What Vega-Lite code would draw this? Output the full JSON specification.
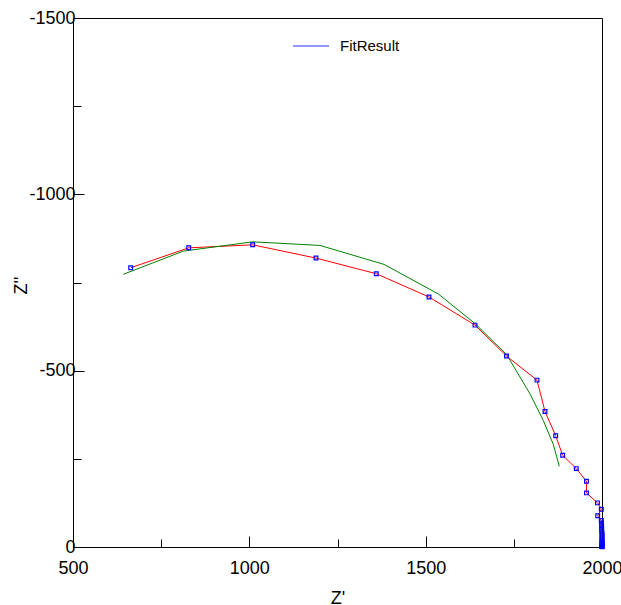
{
  "$schema": "https://vega.github.io/schema/vega-lite/v6.json",
  "width": 529,
  "height": 529,
  "autosize": {"type": "none"},
  "padding": {"left": 73, "top": 18, "right": 19, "bottom": 58},
  "background": "white",
  "config": {
    "view": {"stroke": "black", "strokeWidth": 1},
    "font": "Liberation Sans",
    "axis": {
      "domainColor": "black",
      "tickColor": "black",
      "labelColor": "black",
      "titleColor": "black",
      "labelFont": "Liberation Sans",
      "titleFont": "Liberation Sans",
      "labelFontSize": 18,
      "titleFontSize": 18,
      "titleFontWeight": "normal",
      "grid": false
    }
  },
  "data": {
    "values": [
      {"s": "d", "i": 1, "x": 663.6, "y": -791.8},
      {"s": "d", "i": 2, "x": 828.1, "y": -848.3},
      {"s": "d", "i": 3, "x": 1009.5, "y": -856.8},
      {"s": "d", "i": 4, "x": 1189.0, "y": -819.2},
      {"s": "d", "i": 5, "x": 1360.0, "y": -774.9},
      {"s": "d", "i": 6, "x": 1509.4, "y": -709.0},
      {"s": "d", "i": 7, "x": 1639.9, "y": -629.1},
      {"s": "d", "i": 8, "x": 1729.2, "y": -541.5},
      {"s": "d", "i": 9, "x": 1815.7, "y": -473.2},
      {"s": "d", "i": 10, "x": 1838.4, "y": -384.2},
      {"s": "d", "i": 11, "x": 1868.7, "y": -315.5},
      {"s": "d", "i": 12, "x": 1888.5, "y": -259.9},
      {"s": "d", "i": 13, "x": 1927.1, "y": -222.3},
      {"s": "d", "i": 14, "x": 1956.0, "y": -186.4},
      {"s": "d", "i": 15, "x": 1956.0, "y": -153.4},
      {"s": "d", "i": 16, "x": 1987.2, "y": -125.1},
      {"s": "d", "i": 17, "x": 1998.0, "y": -107.3},
      {"s": "d", "i": 18, "x": 1987.8, "y": -88.4},
      {"s": "d", "i": 19, "x": 1998.0, "y": -75.4},
      {"s": "d", "i": 20, "x": 1998.5, "y": -68},
      {"s": "d", "i": 21, "x": 1999, "y": -60},
      {"s": "d", "i": 22, "x": 1999, "y": -53},
      {"s": "d", "i": 23, "x": 1999, "y": -46},
      {"s": "d", "i": 24, "x": 2000, "y": -40},
      {"s": "d", "i": 25, "x": 2000, "y": -34},
      {"s": "d", "i": 26, "x": 2000, "y": -28},
      {"s": "d", "i": 27, "x": 2000, "y": -23},
      {"s": "d", "i": 28, "x": 2000, "y": -18},
      {"s": "d", "i": 29, "x": 2000, "y": -14},
      {"s": "d", "i": 30, "x": 2000, "y": -10},
      {"s": "d", "i": 31, "x": 2000, "y": -7},
      {"s": "d", "i": 32, "x": 2000, "y": -5},
      {"s": "d", "i": 33, "x": 2000, "y": -3},
      {"s": "d", "i": 34, "x": 2000, "y": -1.5},
      {"s": "d", "i": 35, "x": 2000, "y": -0.5},
      {"s": "f", "i": 1, "x": 642.6, "y": -773.2},
      {"s": "f", "i": 2, "x": 812.8, "y": -839.0},
      {"s": "f", "i": 3, "x": 1009.5, "y": -865.3},
      {"s": "f", "i": 4, "x": 1200.4, "y": -855.1},
      {"s": "f", "i": 5, "x": 1381.8, "y": -801.4},
      {"s": "f", "i": 6, "x": 1535.8, "y": -717.5},
      {"s": "f", "i": 7, "x": 1639.9, "y": -633.6},
      {"s": "f", "i": 8, "x": 1729.8, "y": -545.2},
      {"s": "f", "i": 9, "x": 1795.8, "y": -434.2},
      {"s": "f", "i": 10, "x": 1833.5, "y": -358.8},
      {"s": "f", "i": 11, "x": 1861.9, "y": -291.0},
      {"s": "f", "i": 12, "x": 1878.9, "y": -228.8}
    ]
  },
  "layer": [
    {
      "transform": [{"filter": "datum.s === 'd'"}],
      "mark": {"type": "line", "color": "#ff0000", "strokeWidth": 1},
      "encoding": {
        "x": {
          "field": "x", "type": "quantitative",
          "scale": {"domain": [500, 2000], "nice": false, "zero": false},
          "axis": {
            "orient": "bottom", "values": [500, 1000, 1500, 2000],
            "labelExpr": "'' + datum.value",
            "tickSize": -11, "labelPadding": 23, "title": "Z'",
            "titleY": 56, "titleBaseline": "alphabetic", "labelFlush": false
          }
        },
        "y": {
          "field": "y", "type": "quantitative",
          "scale": {"domain": [-1500, 0], "reverse": true, "nice": false, "zero": false},
          "axis": {
            "orient": "left", "values": [-1500, -1000, -500, 0],
            "labelExpr": "'' + datum.value",
            "tickSize": -11, "labelPadding": 9, "title": "Z''",
            "titleX": -47, "titleY": 267, "titleAngle": 270,
            "titleBaseline": "alphabetic", "titleAlign": "center", "labelFlush": false
          }
        },
        "order": {"field": "i", "type": "quantitative"}
      }
    },
    {
      "transform": [{"filter": "datum.s === 'f'"}],
      "mark": {"type": "line", "color": "#008000", "strokeWidth": 1},
      "encoding": {
        "x": {
          "field": "x", "type": "quantitative",
          "axis": {
            "orient": "bottom", "values": [750, 1250, 1750], "labels": false,
            "domain": false, "tickSize": -8, "title": null
          }
        },
        "y": {
          "field": "y", "type": "quantitative",
          "axis": {
            "orient": "left", "values": [-1250, -750, -250], "labels": false,
            "domain": false, "tickSize": -8, "title": null
          }
        },
        "order": {"field": "i", "type": "quantitative"}
      }
    },
    {
      "transform": [{"filter": "datum.s === 'd'"}],
      "mark": {"type": "point", "shape": "square", "filled": false, "strokeWidth": 1.2, "size": 14, "opacity": 1},
      "encoding": {
        "x": {"field": "x", "type": "quantitative", "axis": null},
        "y": {"field": "y", "type": "quantitative", "axis": null},
        "stroke": {
          "datum": "FitResult",
          "scale": {"range": ["#0000ff"]},
          "legend": {
            "title": null, "orient": "none", "legendX": 219, "legendY": 9,
            "symbolType": "stroke", "symbolSize": 1296, "symbolStrokeWidth": 1.5,
            "symbolOpacity": 0.55, "labelFontSize": 15, "labelFont": "Liberation Sans",
            "labelColor": "black", "labelOffset": 10, "padding": 0
          }
        }
      }
    }
  ],
  "resolve": {"axis": {"x": "independent", "y": "independent"}}
}
